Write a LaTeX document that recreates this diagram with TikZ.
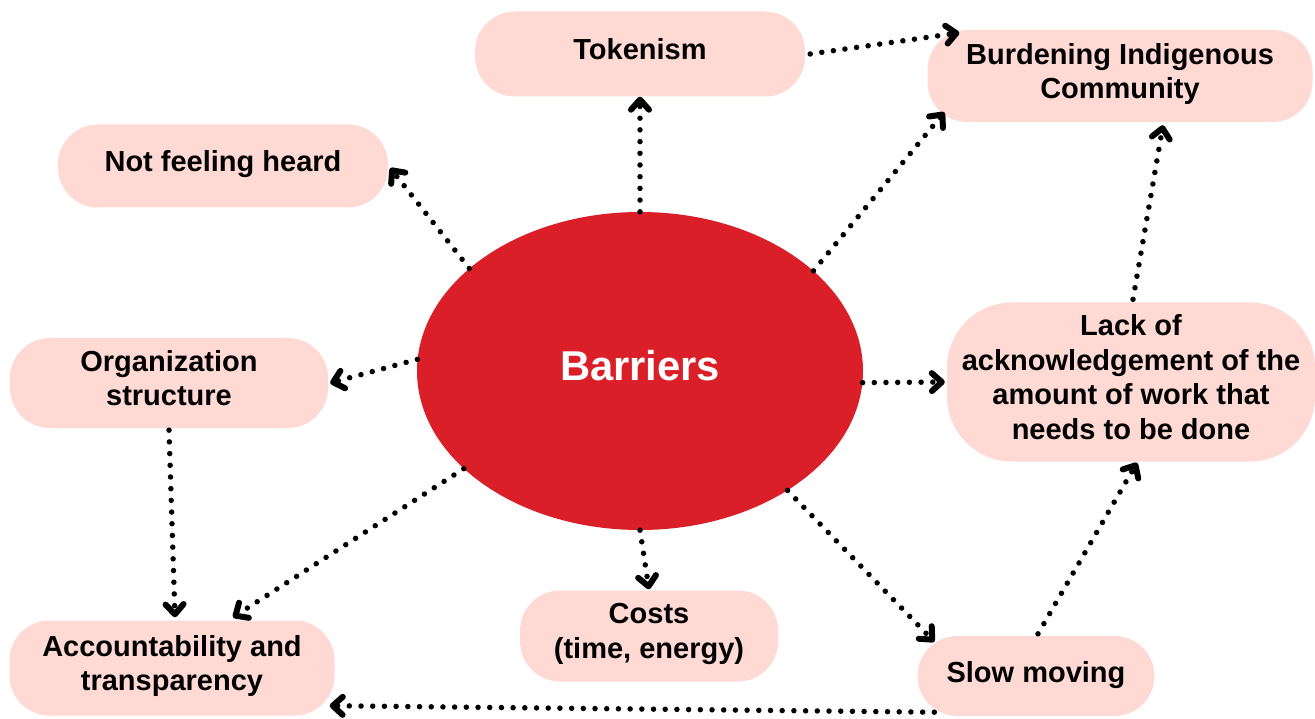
\documentclass[tikz,border=0pt]{standalone}
\usepackage{fontspec}
\setmainfont{Liberation Sans}
\usetikzlibrary{shapes.geometric,arrows.meta,calc}
\definecolor{boxpink}{RGB}{255,217,211}
\definecolor{barred}{RGB}{218,31,41}
% struts fixing the height of the first line and the depth of the last line
\newcommand\topstrut{\rule{0pt}{22pt}}
\newcommand\botstrut{\rule[-10pt]{0pt}{10pt}}
\begin{document}
\begin{tikzpicture}[x=1pt,y=-1pt,
  box/.style={rectangle, rounded corners=40pt, fill=boxpink, align=center,
    inner sep=0pt, execute at begin node=\topstrut,
    execute at end node=\botstrut,
    font=\fontsize{29}{34.5}\selectfont\bfseries},
  link/.style={black, line width=5.5pt, line cap=round,
    dash pattern=on 0pt off 11.7pt,
    -{Straight Barb[round, length=10pt, width=18pt, line width=6pt]}}]
\useasboundingbox (0,0) rectangle (1315,719);

% central ellipse
\node[ellipse, fill=barred, minimum width=446pt, minimum height=318pt,
  inner sep=0pt, text=white, text height=31pt, text depth=11pt,
  font=\fontsize{41.7}{48}\selectfont\bfseries]
  (bar) at (640,371) {Barriers};

% surrounding boxes
\node[box, minimum width=330pt, minimum height=85pt] (tok) at (640,54) {Tokenism};
\node[box, minimum width=385pt, minimum height=92pt] (bur) at (1120,76) {Burdening Indigenous\\Community};
\node[box, minimum width=330pt, minimum height=83pt] (nfh) at (223,166) {Not feeling heard};
\node[box, minimum width=318pt, minimum height=90pt] (org) at (169,383) {Organization\\structure};
\node[box, minimum width=368pt, minimum height=159pt, rounded corners=65pt] (lack) at (1131,382)
  {Lack of\\acknowledgement of the\\amount of work that\\needs to be done};
\node[box, minimum width=258pt, minimum height=91pt] (cost) at (649,636) {Costs\\(time, energy)};
\node[box, minimum width=325pt, minimum height=95pt] (acc) at (172,668) {Accountability and\\transparency};
\node[box, minimum width=237pt, minimum height=80pt] (slow) at (1036,676) {Slow moving};

% connectors
\draw[link] (bar.149) -- ($(nfh.east)+(2,2)$);
\draw[link] (bar.north) -- (tok.south);
\draw[link] ($(tok.east)+(5,0)$) -- ($(bur.north west)+(32,3)$);
\draw[link] (bar.30) -- ($(bur.south west)+(17,-10)$);
\draw[link] (bar.177) -- ($(org.east)+(2,0)$);
\draw[link] (bar.-3) -- ($(lack.west)+(-2,0)$);
\draw[link] ($(lack.north)+(2,-3)$) -- ($(bur.south)+(43,3)$);
\draw[link] ($(org.south)+(0,2)$) -- ($(acc.north)+(3,-3)$);
\draw[link] (bar.209) -- ($(acc.north)+(61,-3)$);
\draw[link] (bar.south) -- ($(cost.north)+(0,-1)$);
\draw[link] (bar.-39) -- ($(slow.north west)+(17,6)$);
\draw[link] ($(slow.north)+(2,-2)$) -- ($(lack.south)+(6,1)$);
\draw[link] ($(slow.south west)+(17,-4)$) -- ($(acc.south east)+(-5,-10)$);
\end{tikzpicture}
\end{document}
